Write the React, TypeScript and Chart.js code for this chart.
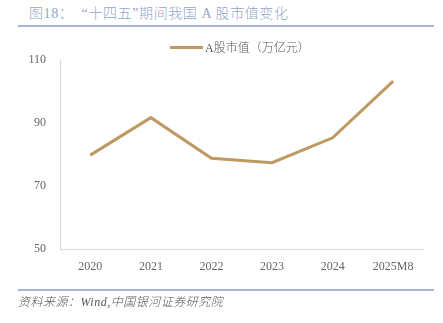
import React, { useEffect, useRef } from "react";
import { Chart, registerables } from "chart.js";

Chart.register(...registerables);

const categories = ["2020", "2021", "2022", "2023", "2024", "2025M8"];
const marketCap = [79.8, 91.7, 78.8, 77.4, 85.3, 103.3];
const seriesName = "A股市值（万亿元）";
const yMin = 50;
const yMax = 110;
const yStep = 20;
const titleText = "图18：  “十四五”期间我国 A 股市值变化";
const sourceText = "资料来源：Wind,中国银河证券研究院";

const LINE_COLOR = "#BE9A62";
const FONT = '"Liberation Serif", "Noto Sans CJK SC", serif';

export default function App() {
  const ref = useRef<HTMLCanvasElement | null>(null);

  useEffect(() => {
    if (!ref.current) return;
    const chart = new Chart(ref.current, {
      type: "line",
      data: {
        labels: categories,
        datasets: [
          {
            label: seriesName,
            data: marketCap,
            borderColor: LINE_COLOR,
            backgroundColor: LINE_COLOR,
            borderWidth: 3,
            pointRadius: 0,
            tension: 0,
          },
        ],
      },
      options: {
        animation: false,
        responsive: false,
        maintainAspectRatio: false,
        layout: { padding: { left: 0, right: 19.5, top: 60, bottom: 0 } },
        plugins: {
          legend: { display: false },
          tooltip: { enabled: false },
          title: { display: false },
        },
        scales: {
          x: {
            offset: true,
            grid: { display: false, drawTicks: false },
            border: { display: true, color: "#D9D9D9", width: 1 },
            ticks: {
              color: "#666666",
              font: { family: FONT, size: 12 },
              padding: 11,
              maxRotation: 0,
            },
            afterFit: (s: any) => {
              s.height = 74;
            },
          },
          y: {
            min: yMin,
            max: yMax,
            grid: { display: false, drawTicks: false },
            border: { display: true, color: "#D9D9D9", width: 1 },
            ticks: {
              stepSize: yStep,
              color: "#666666",
              font: { family: FONT, size: 12 },
              padding: 14,
            },
            afterFit: (s: any) => {
              s.width = 60;
            },
          },
        },
      },
    });
    return () => chart.destroy();
  }, []);

  return (
    <div
      style={{
        position: "fixed",
        left: 0,
        top: 0,
        width: 443,
        height: 323,
        background: "#fff",
        overflow: "hidden",
      }}
    >
      <div
        style={{
          position: "absolute",
          left: 29,
          top: 5,
          fontFamily: FONT,
          fontSize: 14,
          fontWeight: 300,
          color: "#94A6CC",
          whiteSpace: "pre",
          lineHeight: "18px",
          letterSpacing: "0.6px",
        }}
      >
        {titleText}
      </div>
      <div
        style={{
          position: "absolute",
          left: 18,
          top: 25,
          width: 416,
          height: 2,
          background: "#A8B7D6",
        }}
      />
      <canvas
        ref={ref}
        width={443}
        height={323}
        style={{ position: "absolute", left: 0, top: 0, width: 443, height: 323 }}
      />
      <div
        style={{
          position: "absolute",
          left: 170,
          top: 46,
          width: 33,
          height: 3,
          background: LINE_COLOR,
        }}
      />
      <div
        style={{
          position: "absolute",
          left: 205,
          top: 40,
          fontFamily: FONT,
          fontSize: 12,
          fontWeight: 300,
          color: "#595959",
          lineHeight: "16px",
          whiteSpace: "pre",
        }}
      >
        {seriesName}
      </div>
      <div
        style={{
          position: "absolute",
          left: 18,
          top: 289,
          width: 416,
          height: 2,
          background: "#A8B7D6",
        }}
      />
      <div
        style={{
          position: "absolute",
          left: 18,
          top: 294,
          fontFamily: FONT,
          fontSize: 12,
          fontStyle: "italic",
          fontWeight: 300,
          color: "#555555",
          lineHeight: "16px",
          whiteSpace: "pre",
          letterSpacing: "0.5px",
        }}
      >
        {sourceText}
      </div>
    </div>
  );
}
